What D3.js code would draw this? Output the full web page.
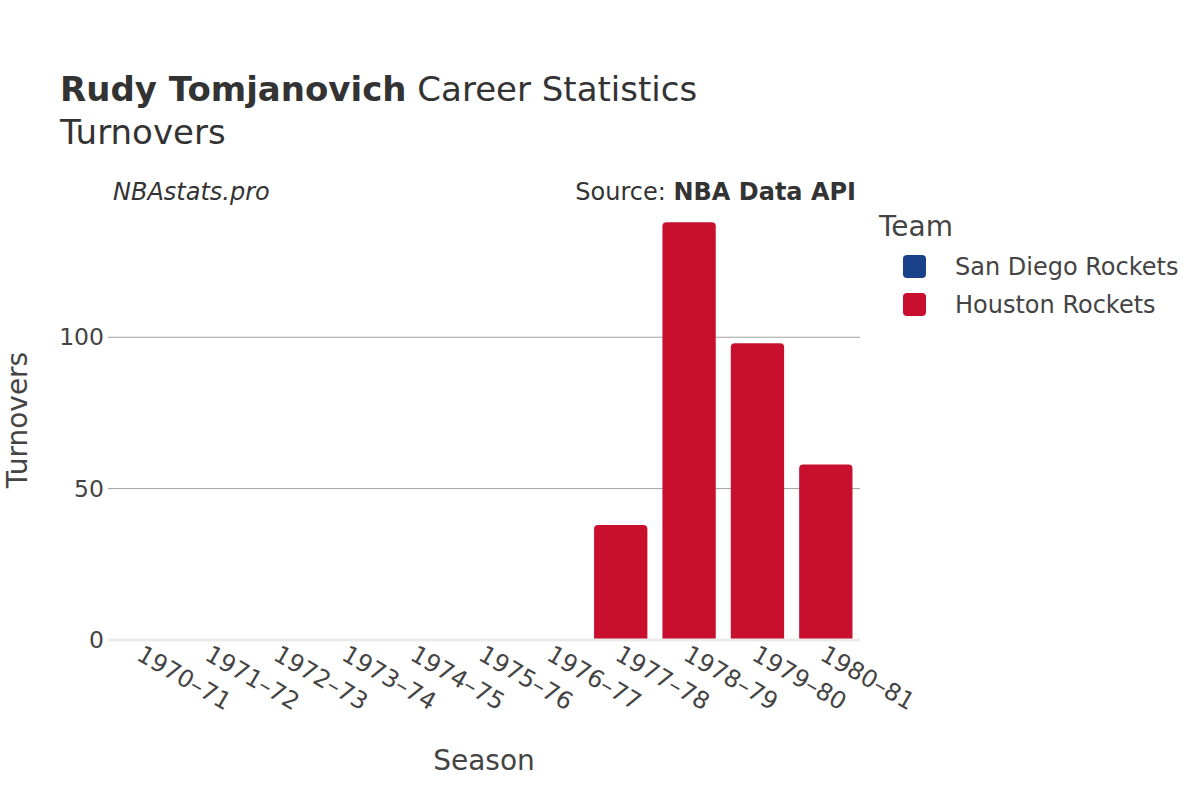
<!DOCTYPE html>
<html>
<head>
<meta charset="utf-8">
<script src="https://cdn.jsdelivr.net/npm/d3@7"></script>
<style>
  body { margin: 0; background: #fff; }
  svg { font-family: "DejaVu Sans", sans-serif; }
</style>
</head>
<body>
<svg id="chart" width="1200" height="800"></svg>
<script>
const seasons = ["1970–71","1971–72","1972–73","1973–74","1974–75","1975–76","1976–77","1977–78","1978–79","1979–80","1980–81"];
const teams = ["San Diego Rockets", "Houston Rockets"];
const teamColors = ["#1a428a", "#c8102e"];
const sanDiegoTurnovers = [null, null, null, null, null, null, null, null, null, null, null];
const houstonTurnovers = [null, null, null, null, null, null, null, 38, 138, 98, 58];
const yTicks = [0, 50, 100];

const svg = d3.select("#chart");
const margin = { left: 108, right: 860, top: 201, bottom: 640 };

const x = d3.scaleBand().domain(seasons).range([margin.left, margin.right]).paddingInner(0.22).paddingOuter(0.11);
const y = d3.scaleLinear().domain([0, 145]).range([margin.bottom, margin.top]);

// gridlines
svg.append("g").selectAll("line").data(yTicks.filter(d => d !== 0)).join("line")
  .attr("x1", margin.left).attr("x2", margin.right)
  .attr("y1", d => y(d)).attr("y2", d => y(d))
  .attr("stroke", "#a0a0a0").attr("stroke-width", 1);

// bars
const series = [sanDiegoTurnovers, houstonTurnovers];
series.forEach((vals, i) => {
  const data = seasons.map((s, j) => ({ s, v: vals[j] })).filter(d => d.v != null);
  svg.append("g").selectAll("path").data(data).join("path")
    .attr("fill", teamColors[i])
    .attr("d", d => {
      const x0 = x(d.s), w = x.bandwidth(), y0 = y(d.v), y1 = y(0), r = 4;
      return `M${x0},${y1} L${x0},${y0 + r} Q${x0},${y0} ${x0 + r},${y0} L${x0 + w - r},${y0} Q${x0 + w},${y0} ${x0 + w},${y0 + r} L${x0 + w},${y1} Z`;
    });
});

// zero line
svg.append("line").attr("x1", margin.left).attr("x2", margin.right)
  .attr("y1", y(0)).attr("y2", y(0)).attr("stroke", "#ebebeb").attr("stroke-width", 3);

// y axis labels
const yAxis = d3.axisLeft(y).tickValues(yTicks).tickSize(0).tickPadding(0);
const gy = svg.append("g").attr("transform", `translate(${margin.left - 4},0)`).call(yAxis);
gy.select(".domain").remove();
gy.selectAll("text").attr("font-size", 23.5).attr("fill", "#444").attr("font-family", "DejaVu Sans");

// x axis labels
const xAxis = d3.axisBottom(x).tickSize(0).tickPadding(0);
const gx = svg.append("g").attr("transform", `translate(0,${margin.bottom})`).call(xAxis);
gx.select(".domain").remove();
gx.selectAll("text")
  .attr("font-size", 24).attr("fill", "#444").attr("font-family", "DejaVu Sans")
  .attr("text-anchor", "start")
  .attr("dy", null).attr("y", 0)
  .attr("transform", "translate(-7,19) rotate(30)");

// titles
const title = svg.append("text").attr("x", 60).attr("y", 101).attr("font-size", 34).attr("fill", "#333");
title.append("tspan").attr("font-weight", "bold").text("Rudy Tomjanovich");
title.append("tspan").text(" Career Statistics");
svg.append("text").attr("x", 60).attr("y", 144).attr("font-size", 34).attr("fill", "#333").text("Turnovers");

svg.append("text").attr("x", 113).attr("y", 200).attr("font-size", 24).attr("font-style", "italic").attr("fill", "#333").text("NBAstats.pro");
const src = svg.append("text").attr("x", 856).attr("y", 200).attr("font-size", 24).attr("text-anchor", "end").attr("fill", "#333");
src.append("tspan").text("Source: ");
src.append("tspan").attr("font-weight", "bold").text("NBA Data API");

// axis titles
svg.append("text").attr("x", 484).attr("y", 770).attr("font-size", 28).attr("text-anchor", "middle").attr("fill", "#444").text("Season");
svg.append("text").attr("transform", "translate(27,420) rotate(-90)").attr("font-size", 28).attr("text-anchor", "middle").attr("fill", "#444").text("Turnovers");

// legend
svg.append("text").attr("x", 879).attr("y", 236).attr("font-size", 28).attr("fill", "#444").text("Team");
teams.forEach((t, i) => {
  const cy = 266 + i * 38;
  svg.append("rect").attr("x", 903).attr("y", cy - 11).attr("width", 23).attr("height", 23).attr("rx", 4)
    .attr("fill", teamColors[i]);
  svg.append("text").attr("x", 955).attr("y", cy + 9).attr("font-size", 24).attr("fill", "#444").text(t);
});
</script>
</body>
</html>
